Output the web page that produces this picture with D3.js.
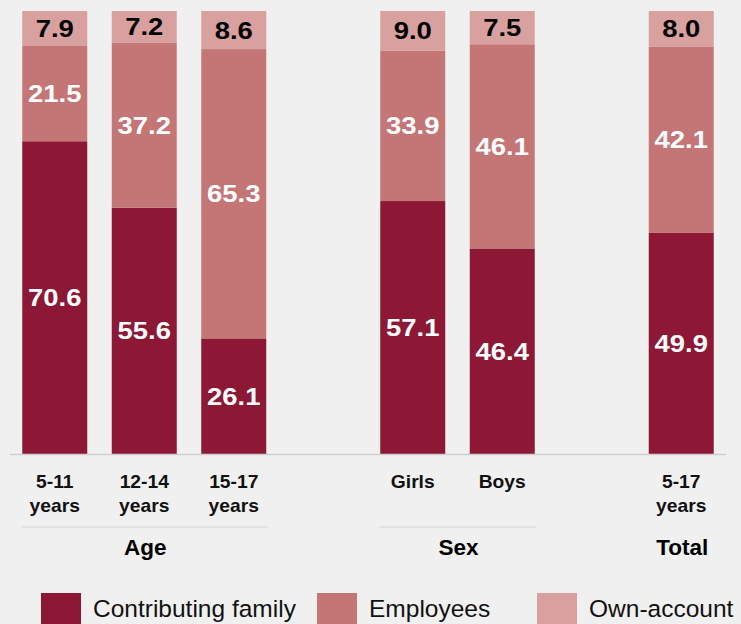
<!DOCTYPE html>
<html>
<head>
<meta charset="utf-8">
<script src="https://cdn.jsdelivr.net/npm/d3@7"></script>
<style>
  html, body { margin: 0; padding: 0; background: #f0f0f0; }
  svg { display: block; font-family: "Liberation Sans", Arial, Helvetica, sans-serif; }
</style>
</head>
<body>
<svg id="chart"></svg>
<script>
//data
var categories = ["5-11 years", "12-14 years", "15-17 years", "Girls", "Boys", "5-17 years"];
var categoryLines = [["5-11", "years"], ["12-14", "years"], ["15-17", "years"], ["Girls"], ["Boys"], ["5-17", "years"]];
var contributing = [70.6, 55.6, 26.1, 57.1, 46.4, 49.9];
var employees = [21.5, 37.2, 65.3, 33.9, 46.1, 42.1];
var ownAccount = [7.9, 7.2, 8.6, 9.0, 7.5, 8.0];
var seriesNames = ["Contributing family", "Employees", "Own-account"];
var groups = [
  {name: "Age", members: ["5-11 years", "12-14 years", "15-17 years"], line: true},
  {name: "Sex", members: ["Girls", "Boys"], line: true},
  {name: "Total", members: ["5-17 years"], line: false}
];

//layout conf.
var svgWidth = 741,
    svgHeight = 624,
    baseY = 454,
    topY = 11,
    colors = ["#8c1836", "#c47676", "#d8a09e"],
    textColors = ["#ffffff", "#ffffff", "#000000"],
    numStretch = 1.12;

// slots incl. the empty gaps between groups
var slots = ["5-11 years", "12-14 years", "15-17 years", "gap1", "Girls", "Boys", "gap2", "5-17 years"];

var x = d3.scaleBand()
  .domain(slots)
  .range([10, 726])
  .paddingInner(0.274)
  .paddingOuter(0.137);

var y = d3.scaleLinear().domain([0, 100]).range([baseY, topY]);

var svg = d3.select("#chart")
  .attr("width", svgWidth)
  .attr("height", svgHeight);

var table = categories.map(function(c, i) {
  return {cat: c, contributing: contributing[i], employees: employees[i], own: ownAccount[i]};
});
var stack = d3.stack().keys(["contributing", "employees", "own"]);
var stacked = stack(table);

var layers = svg.append("g").classed("bars", true)
  .selectAll("g")
  .data(stacked)
  .enter()
  .append("g")
  .attr("fill", function(d, i) { return colors[i]; });

layers.selectAll("rect")
  .data(function(d) { return d; })
  .enter()
  .append("rect")
  .attr("x", function(d) { return x(d.data.cat); })
  .attr("width", x.bandwidth())
  .attr("y", function(d) { return y(d[1]); })
  .attr("height", function(d) { return y(d[0]) - y(d[1]); });

// value labels
stacked.forEach(function(layer, li) {
  svg.append("g").selectAll("text")
    .data(layer)
    .enter()
    .append("text")
    .attr("transform", function(d) {
      var cx = x(d.data.cat) + x.bandwidth() / 2,
          cy = (y(d[0]) + y(d[1])) / 2;
      return "translate(" + [cx, cy + 8.5] + ") scale(" + numStretch + ",1)";
    })
    .attr("text-anchor", "middle")
    .style("font-size", "24.5px")
    .style("font-weight", "bold")
    .style("fill", textColors[li])
    .text(function(d) { return (d[1] - d[0]).toFixed(1); });
});

// baseline
svg.append("line")
  .attr("x1", 10).attr("x2", 726)
  .attr("y1", baseY + 0.5).attr("y2", baseY + 0.5)
  .style("stroke", "#cfcfcf")
  .style("stroke-width", 1.5);

// category labels
var catLabels = svg.append("g").selectAll("text")
  .data(categories)
  .enter()
  .append("text")
  .attr("text-anchor", "middle")
  .style("font-size", "17.5px")
  .style("font-weight", "bold")
  .style("fill", "#111");

catLabels.each(function(c, i) {
  var t = d3.select(this);
  categoryLines[i].forEach(function(line, li) {
    t.append("tspan")
      .attr("x", 0)
      .attr("dy", li === 0 ? 0 : 24.5)
      .text(line);
  });
  t.attr("transform", "translate(" + [x(c) + x.bandwidth() / 2, 487.5] + ") scale(1.1,1)");
});

// group labels and separators
groups.forEach(function(g) {
  var x0 = x(g.members[0]),
      x1 = x(g.members[g.members.length - 1]) + x.bandwidth();
  if (g.line) {
    svg.append("line")
      .attr("x1", x0 - 1).attr("x2", x1 + 1)
      .attr("y1", 527).attr("y2", 527)
      .style("stroke", "#d4d4d4")
      .style("stroke-width", 1);
  }
  svg.append("text")
    .attr("x", (x0 + x1) / 2 + 1)
    .attr("y", 554.5)
    .attr("text-anchor", "middle")
    .style("font-size", "22.5px")
    .style("font-weight", "bold")
    .style("fill", "#000")
    .text(g.name);
});

// legend
var legendX = [41, 317, 537];
var legend = svg.append("g").classed("legend", true)
  .selectAll("g")
  .data(seriesNames)
  .enter()
  .append("g")
  .attr("transform", function(d, i) { return "translate(" + [legendX[i], 593] + ")"; });

legend.append("rect")
  .attr("width", 40)
  .attr("height", 40)
  .attr("fill", function(d, i) { return colors[i]; });

legend.append("text")
  .attr("x", 52)
  .attr("y", 24)
  .style("font-size", "24.5px")
  .style("fill", "#111")
  .text(function(d) { return d; });
</script>
</body>
</html>
